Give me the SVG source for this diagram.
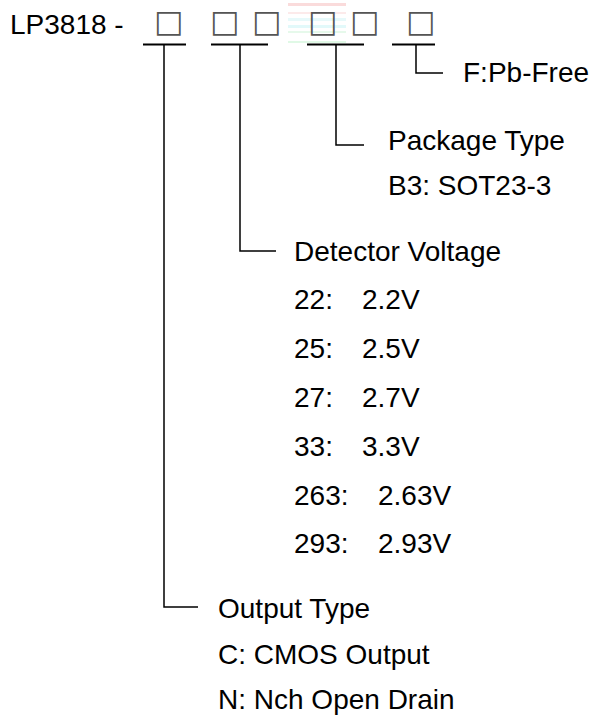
<svg xmlns="http://www.w3.org/2000/svg" width="592" height="721" viewBox="0 0 592 721">
  <style>
    .t { font-family: "Liberation Sans", Arial, sans-serif; font-size: 28px; fill: #000; }
    .box { font-family: "DejaVu Sans", sans-serif; font-size: 31px; fill: #555; }
    .ul { stroke: #000; stroke-width: 2; fill: none; }
    .ln { stroke: #000; stroke-width: 1.5; fill: none; }
  </style>
  <rect width="592" height="721" fill="#fff"/>
  <g id="watermark" opacity="0.35">
    <rect x="288" y="3" width="58" height="3" fill="#f39a9a"/>
    <rect x="288" y="12" width="58" height="2" fill="#f7c6c6"/>
    <rect x="288" y="18" width="58" height="3" fill="#bdeef2"/>
    <rect x="288" y="25" width="58" height="3" fill="#aef0f2"/>
    <rect x="288" y="31" width="58" height="2" fill="#b8f0c8"/>
    <rect x="288" y="41" width="58" height="2" fill="#a8eeb8"/>
  </g>
  <g id="title">
    <text class="t" x="10" y="34">LP3818 -</text>
    <text class="box" x="154" y="32">□</text>
    <text class="box" x="210" y="32">□</text>
    <text class="box" x="252" y="32">□</text>
    <text class="box" x="308" y="32">□</text>
    <text class="box" x="350" y="32">□</text>
    <text class="box" x="406" y="32">□</text>
  </g>
  <g id="connectors">
    <line class="ul" x1="143" y1="44.5" x2="186" y2="44.5"/>
    <line class="ul" x1="211" y1="44.5" x2="268" y2="44.5"/>
    <line class="ul" x1="307" y1="44.5" x2="364" y2="44.5"/>
    <line class="ul" x1="392" y1="44.5" x2="435" y2="44.5"/>
    <polyline class="ln" points="164,45 164,607 198,607"/>
    <polyline class="ln" points="240,45 240,251 276,251"/>
    <polyline class="ln" points="336,45 336,145 364,145"/>
    <polyline class="ln" points="416,45 416,73 443,73"/>
  </g>
  <g id="pbfree">
    <text class="t" x="463" y="82">F:Pb-Free</text>
  </g>
  <g id="package">
    <text class="t" x="388" y="150">Package Type</text>
    <text class="t" x="388" y="195">B3: SOT23-3</text>
  </g>
  <g id="voltage">
    <text class="t" x="294" y="261">Detector Voltage</text>
    <text class="t" x="294" y="309">22:<tspan x="362">2.2V</tspan></text>
    <text class="t" x="294" y="358">25:<tspan x="362">2.5V</tspan></text>
    <text class="t" x="294" y="407">27:<tspan x="362">2.7V</tspan></text>
    <text class="t" x="294" y="456">33:<tspan x="362">3.3V</tspan></text>
    <text class="t" x="294" y="505">263:<tspan x="378">2.63V</tspan></text>
    <text class="t" x="294" y="553">293:<tspan x="378">2.93V</tspan></text>
  </g>
  <g id="output">
    <text class="t" x="218" y="618">Output Type</text>
    <text class="t" x="218" y="664">C: CMOS Output</text>
    <text class="t" x="218" y="709">N: Nch Open Drain</text>
  </g>
</svg>
